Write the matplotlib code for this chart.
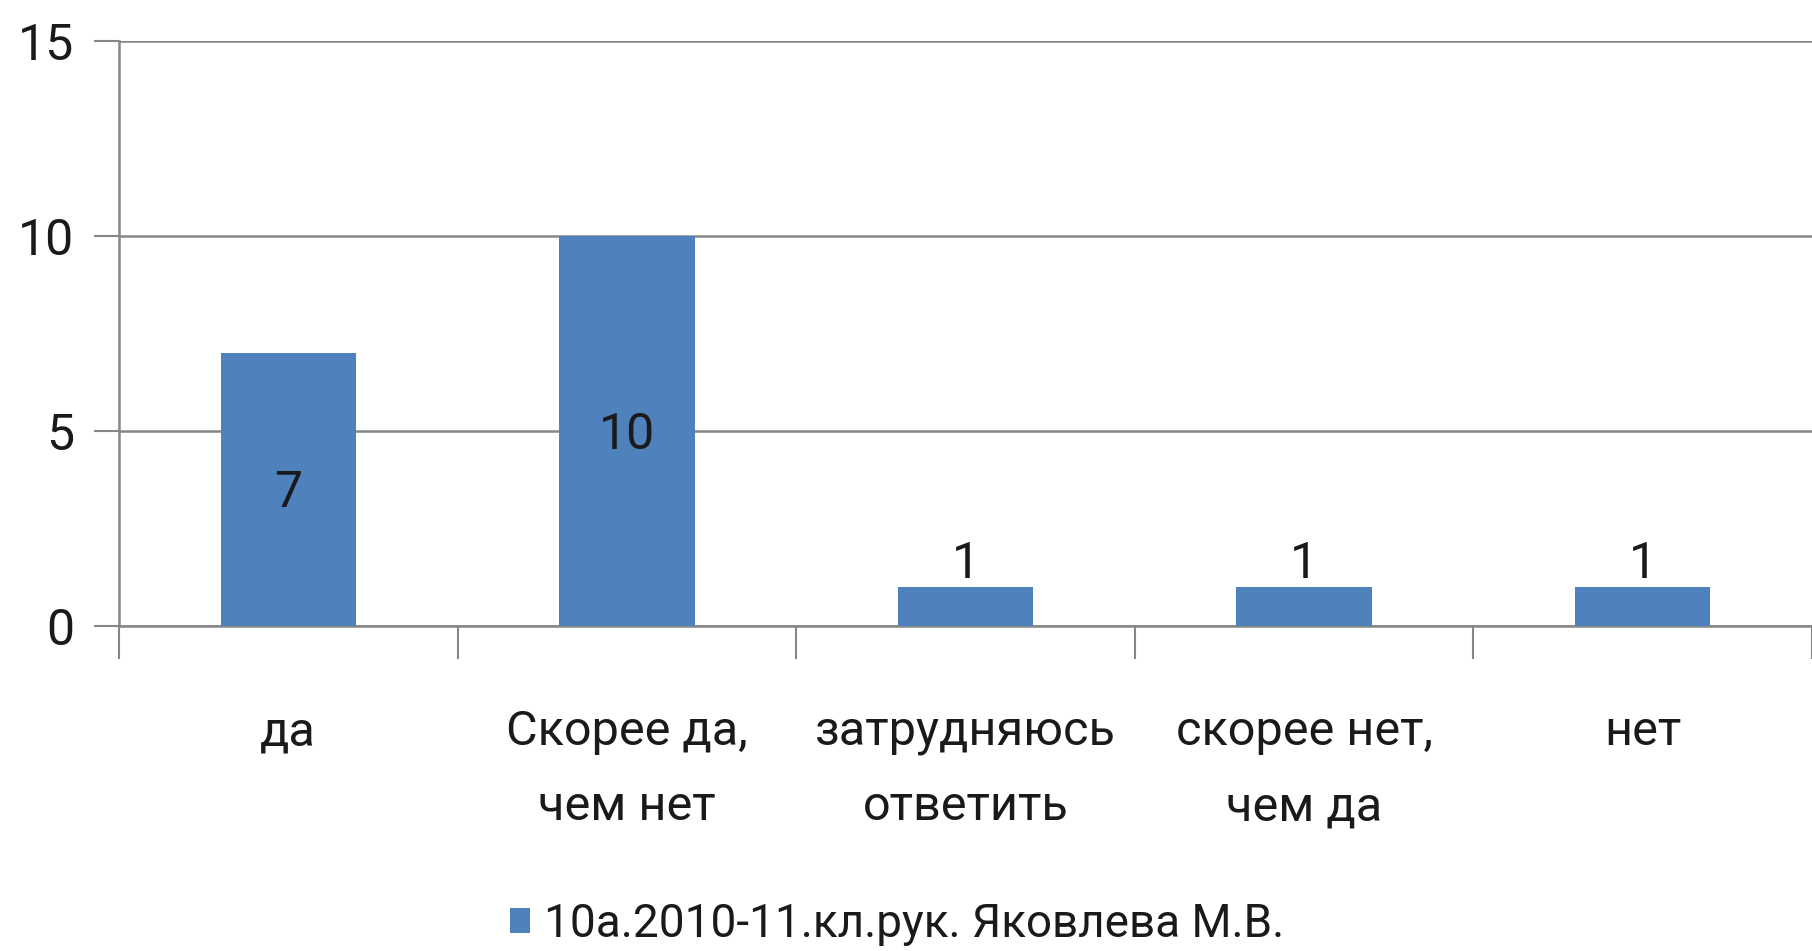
import matplotlib.pyplot as plt
import numpy as np

categories = ['да', 'Скорее да,\nчем нет', 'затрудняюсь\nответить', 'скорее нет,\nчем да', 'нет']
values = [7, 10, 1, 1, 1]
series_name = '10а.2010-11.кл.рук. Яковлева М.В.'
y_ticks = [0, 5, 10, 15]

plt.rcParams['font.family'] = ['Roboto', 'DejaVu Sans']

fig = plt.figure(figsize=(18.12, 9.51), dpi=100)
ax = fig.add_axes([119 / 1812, 1 - 626 / 951, 1 - 119 / 1812, (626 - 41) / 951])

grid_color = '#868686'
bar_color = '#4F81BD'
text_color = '#1a1a1a'
fs = 36

x = np.arange(len(categories))
bars = ax.bar(x, values, width=0.4, color=bar_color, label=series_name, zorder=3)

ax.set_xlim(-0.5, len(categories) - 0.5)
ax.set_ylim(0, 15)
ax.set_yticks(y_ticks)
ax.set_yticklabels([str(t) for t in y_ticks], fontsize=fs, color=text_color)
ax.yaxis.grid(True, color=grid_color, linewidth=1.8, zorder=0)

# category ticks sit between the bars
ax.set_xticks(np.arange(len(categories) + 1) - 0.5)
ax.set_xticklabels([])
ax.set_xticks(x, minor=True)
ax.set_xticklabels(categories, minor=True, fontsize=35, color=text_color, linespacing=1.8)
ax.tick_params(axis='x', which='minor', length=0, pad=60)
ax.tick_params(axis='x', which='major', length=24, width=1.5, color=grid_color)
ax.tick_params(axis='y', length=18, width=1.5, color=grid_color, pad=14)

for side in ['top', 'right']:
    ax.spines[side].set_visible(False)
for side in ['left', 'bottom']:
    ax.spines[side].set_color(grid_color)
    ax.spines[side].set_linewidth(1.8)

# data labels: centred in tall bars, above short ones
for xi, v in zip(x, values):
    if v >= 5:
        ax.text(xi, v / 2 - 0.1, str(v), ha='center', va='center', fontsize=fs, color=text_color, zorder=4)
    else:
        ax.text(xi, v + 0.6, str(v), ha='center', va='center', fontsize=fs, color=text_color, zorder=4)

fig.legend(handles=[bars], labels=[series_name], loc='center', bbox_to_anchor=(0.495, 1 - 924 / 951),
           frameon=False, fontsize=33, handlelength=0.45, handleheight=0.45, handletextpad=0.3,
           labelcolor=text_color)

fig.savefig('out.png', dpi=100, facecolor='white')
